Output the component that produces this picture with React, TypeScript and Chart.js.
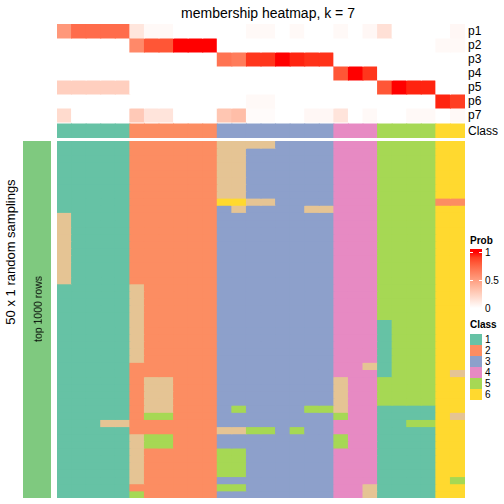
import React, { useEffect, useRef } from "react";
import { Chart, registerables } from "chart.js";

Chart.register(...registerables);

// ---------------- data ----------------
const sampleIds = [
  "s1", "s2", "s3", "s4", "s5", "s6", "s7", "s8", "s9", "s10", "s11", "s12", "s13", "s14",
  "s15", "s16", "s17", "s18", "s19", "s20", "s21", "s22", "s23", "s24", "s25", "s26", "s27", "s28",
];

// membership probabilities for each sample (columns)
const p1 = [0.53, 0.73, 0.73, 0.73, 0.73, 0.13, 0.03, 0.03, 0, 0, 0, 0, 0, 0.03, 0.03, 0, 0.03, 0, 0, 0.03, 0, 0.04, 0.16, 0, 0, 0, 0, 0.04];
const p2 = [0, 0, 0, 0, 0, 0.6, 0.82, 0.82, 1, 1, 1, 0, 0, 0, 0, 0, 0, 0, 0, 0, 0, 0, 0, 0, 0, 0, 0.03, 0.03];
const p3 = [0, 0, 0, 0, 0, 0, 0, 0, 0, 0, 0, 0.7, 0.66, 0.92, 0.92, 1, 0.96, 0.93, 0.93, 0, 0, 0, 0, 0, 0, 0, 0, 0];
const p4 = [0, 0, 0, 0, 0, 0, 0, 0, 0, 0, 0, 0, 0, 0, 0, 0, 0, 0, 0, 0.82, 1, 0.92, 0, 0, 0, 0, 0, 0];
const p5 = [0.25, 0.25, 0.25, 0.25, 0.25, 0, 0, 0, 0, 0, 0, 0, 0, 0, 0, 0, 0, 0, 0, 0, 0, 0, 0.82, 1, 0.96, 0.96, 0, 0];
const p6 = [0, 0, 0, 0, 0, 0, 0, 0, 0, 0, 0, 0, 0, 0.03, 0.03, 0, 0, 0, 0, 0, 0, 0, 0, 0, 0, 0, 0.96, 0.9];
const p7 = [0.19, 0, 0, 0, 0, 0.28, 0.14, 0.14, 0, 0, 0, 0.3, 0.34, 0.02, 0.02, 0, 0, 0.04, 0.04, 0.14, 0, 0.03, 0, 0, 0.03, 0.03, 0, 0.03];

const probRowNames = ["p1", "p2", "p3", "p4", "p5", "p6", "p7"];
const sampleClass = [1, 1, 1, 1, 1, 2, 2, 2, 2, 2, 2, 3, 3, 3, 3, 3, 3, 3, 3, 4, 4, 4, 5, 5, 5, 5, 6, 6];
const classLegend = ["1", "2", "3", "4", "5", "6"];
const probTicks = ["1", "0.5", "0"];

// class assigned in each of the 50 random samplings (rows), per sample (columns)
const samplingRows = [
  "1111122222277773333444555566",
  "1111122222277333333444555566",
  "1111122222277333333444555566",
  "1111122222277333333444555566",
  "1111122222277333333444555566",
  "1111122222277333333444555566",
  "1111122222277333333444555566",
  "1111122222277333333444555566",
  "1111122222266773333444555522",
  "1111122222237333377444555566",
  "7111122222233333333444555566",
  "7111122222233333333444555566",
  "7111122222233333333444555566",
  "7111122222233333333444555566",
  "7111122222233333333444555566",
  "7111122222233333333444555566",
  "7111122222233333333444555566",
  "7111122222233333333444555566",
  "7111122222233333333444555566",
  "7111122222233333333444555566",
  "1111172222233333333444555566",
  "1111172222233333333444555566",
  "1111172222233333333444555566",
  "1111172222233333333444555566",
  "1111172222233333333444555566",
  "1111172222233333333444155566",
  "1111172222233333333444155566",
  "1111172222233333333444155566",
  "1111172222233333333444155566",
  "1111172222233333333444155566",
  "1111172222233333333444155566",
  "1111122222233333333447155566",
  "1111122222233333333444155567",
  "1111127722233333333744555566",
  "1111127722233333333744555566",
  "1111127722233333333744555566",
  "1111127722233333333744555566",
  "1111127722235333355744111166",
  "1111125522233333333544111167",
  "1117722222233333333444115566",
  "1111122222277553533444111166",
  "1111175522233333333544111166",
  "1111175522233333333544111166",
  "1111172222255333333444111166",
  "1111172222255333333444111166",
  "1111172222255333333444111166",
  "1111172222255333333444111166",
  "1111172222233333333444111165",
  "1111122222255333333447111166",
  "1111152222233333333447111166",
];

const classColors = ["#66C2A5", "#FC8D62", "#8DA0CB", "#E78AC3", "#A6D854", "#FFD92F", "#E5C494"];
const samplingBarColor = "#7FC97F";

// ---------------- colour helpers (LAB interpolation white -> red) ----------------
function hexToRgb(h: string): number[] {
  const v = h.replace("#", "");
  return [parseInt(v.slice(0, 2), 16), parseInt(v.slice(2, 4), 16), parseInt(v.slice(4, 6), 16)];
}
function toLin(c: number) {
  const v = c / 255;
  return v <= 0.04045 ? v / 12.92 : Math.pow((v + 0.055) / 1.055, 2.4);
}
function fromLin(c: number) {
  const v = c <= 0.0031308 ? 12.92 * c : 1.055 * Math.pow(Math.max(c, 0), 1 / 2.4) - 0.055;
  return Math.round(Math.max(0, Math.min(1, v)) * 255);
}
function rgbToLab(rgb: number[]) {
  const R = toLin(rgb[0]), G = toLin(rgb[1]), B = toLin(rgb[2]);
  const X = (0.4124 * R + 0.3576 * G + 0.1805 * B) / 0.95047;
  const Y = 0.2126 * R + 0.7152 * G + 0.0722 * B;
  const Z = (0.0193 * R + 0.1192 * G + 0.9505 * B) / 1.08883;
  const f = (t: number) => (t > 0.008856 ? Math.cbrt(t) : 7.787 * t + 16 / 116);
  return [116 * f(Y) - 16, 500 * (f(X) - f(Y)), 200 * (f(Y) - f(Z))];
}
function labToRgbStr(lab: number[]) {
  const fy = (lab[0] + 16) / 116;
  const fx = fy + lab[1] / 500;
  const fz = fy - lab[2] / 200;
  const inv = (t: number) => (t * t * t > 0.008856 ? t * t * t : (t - 16 / 116) / 7.787);
  const X = inv(fx) * 0.95047, Y = inv(fy), Z = inv(fz) * 1.08883;
  const R = 3.2406 * X - 1.5372 * Y - 0.4986 * Z;
  const G = -0.9689 * X + 1.8758 * Y + 0.0415 * Z;
  const B = 0.0557 * X - 0.204 * Y + 1.057 * Z;
  return `rgb(${fromLin(R)},${fromLin(G)},${fromLin(B)})`;
}
const LAB_W = rgbToLab(hexToRgb("#FFFFFF"));
const LAB_R = rgbToLab(hexToRgb("#FF0000"));
function probColor(t: number) {
  return labToRgbStr([0, 1, 2].map((i) => LAB_W[i] + (LAB_R[i] - LAB_W[i]) * t));
}

// ---------------- chart component ----------------
type HeatProps = {
  left: number; top: number; width: number; height: number;
  columns: string[]; rowColors: string[][]; rowHeights: number[];
};

function HeatBars({ left, top, width, height, columns, rowColors, rowHeights }: HeatProps) {
  const ref = useRef<HTMLCanvasElement | null>(null);
  useEffect(() => {
    if (!ref.current) return;
    const total = rowHeights.reduce((a, b) => a + b, 0);
    const chart = new Chart(ref.current, {
      type: "bar",
      data: {
        labels: columns,
        datasets: rowColors.map((colors, r) => ({
          label: "row" + r,
          data: columns.map(() => rowHeights[r]),
          backgroundColor: colors,
          borderWidth: 0,
          inflateAmount: 0.5,
          categoryPercentage: 1,
          barPercentage: 1,
        })) as any,
      },
      options: {
        responsive: false,
        maintainAspectRatio: false,
        animation: false,
        events: [],
        layout: { padding: 0 },
        plugins: { legend: { display: false }, tooltip: { enabled: false }, title: { display: false } },
        scales: {
          x: { stacked: true, display: false },
          y: { stacked: true, display: false, min: 0, max: total, reverse: true },
        },
      },
    });
    return () => chart.destroy();
  }, []);
  return (
    <canvas
      ref={ref}
      width={width}
      height={height}
      style={{ position: "absolute", left, top, width, height }}
    />
  );
}

// ---------------- text helpers ----------------
const FONT = '"Liberation Sans", Arial, Helvetica, sans-serif';

function Txt(props: { x: number; y: number; size: number; text: string; bold?: boolean; align?: "left" | "center"; rotate?: boolean }) {
  const { x, y, size, text, bold, align, rotate } = props;
  const tr = rotate
    ? "translate(-50%,-50%) rotate(-90deg)"
    : align === "center"
    ? "translate(-50%,-50%)"
    : "translate(0,-50%)";
  return (
    <div
      style={{
        position: "absolute",
        left: x,
        top: y,
        transform: tr,
        fontSize: size,
        lineHeight: 1,
        fontWeight: bold ? "bold" : "normal",
        whiteSpace: "nowrap",
        fontFamily: FONT,
        color: "#000",
      }}
    >
      {text}
    </div>
  );
}

export default function App() {
  const probRows = [p1, p2, p3, p4, p5, p6, p7];
  const topColors: string[][] = [
    ...probRows.map((row) => row.map((v) => probColor(v))),
    sampleIds.map(() => "rgba(0,0,0,0)"),
    sampleClass.map((c) => classColors[c - 1]),
  ];
  const topHeights = [1, 1, 1, 1, 1, 1, 1, 0.143, 1];

  const mainColors: string[][] = samplingRows.map((s) => s.split("").map((ch) => classColors[Number(ch) - 1]));
  const mainHeights = samplingRows.map(() => 1);

  // gradient for prob legend
  const stops: string[] = [];
  for (let k = 0; k <= 10; k++) {
    const t = k / 10;
    const pos = 4.8 + (95.2 - 4.8) * t;
    stops.push(`${probColor(t)} ${pos.toFixed(1)}%`);
  }
  const grad = `linear-gradient(to top, ${stops.join(", ")})`;

  const rowLabelY = [31, 45, 59, 73, 87, 101, 115];
  const probTickY = [252, 280, 308];

  return (
    <div
      style={{
        position: "fixed",
        left: 0,
        top: 0,
        width: 504,
        height: 504,
        background: "#fff",
        overflow: "hidden",
        fontFamily: FONT,
      }}
    >
      <Txt x={268} y={13} size={14} text="membership heatmap, k = 7" align="center" />

      <HeatBars left={57} top={24} width={408} height={114} columns={sampleIds} rowColors={topColors} rowHeights={topHeights} />
      <HeatBars left={57} top={141} width={408} height={357} columns={sampleIds} rowColors={mainColors} rowHeights={mainHeights} />
      <HeatBars left={23} top={141} width={28} height={357} columns={["top 1000 rows"]} rowColors={[[samplingBarColor]]} rowHeights={[1]} />

      {probRowNames.map((n, i) => (
        <Txt key={n} x={468} y={rowLabelY[i]} size={12} text={n} />
      ))}
      <Txt x={468} y={131} size={12} text="Class" />

      <Txt x={10} y={252} size={13} text="50 x 1 random samplings" rotate />
      <Txt x={37.5} y={309} size={10.5} text="top 1000 rows" rotate />

      {/* Prob legend */}
      <Txt x={470} y={241} size={10} text="Prob" bold />
      <div style={{ position: "absolute", left: 470, top: 249, width: 12, height: 62, background: grad }} />
      {probTickY.map((y, i) => (
        <React.Fragment key={"t" + i}>
          <div style={{ position: "absolute", left: 470, top: y - 0.5, width: 3, height: 1, background: "#fff" }} />
          <div style={{ position: "absolute", left: 479, top: y - 0.5, width: 3, height: 1, background: "#fff" }} />
          <Txt x={485} y={y + 1} size={10} text={probTicks[i]} />
        </React.Fragment>
      ))}

      {/* Class legend */}
      <Txt x={470} y={325} size={10} text="Class" bold />
      {classLegend.map((c, i) => (
        <React.Fragment key={"c" + c}>
          <div style={{ position: "absolute", left: 470, top: 334 + 11 * i, width: 12, height: 11, background: classColors[i] }} />
          <Txt x={485} y={339.5 + 11 * i} size={10} text={c} />
        </React.Fragment>
      ))}
    </div>
  );
}
